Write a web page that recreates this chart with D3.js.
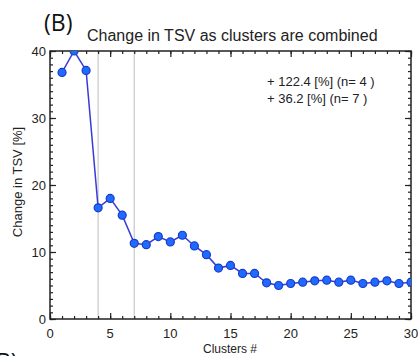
<!DOCTYPE html>
<meta charset="utf-8">
<html>
<head>
<style>
body { margin: 0; background: #fff; }
svg text { font-family: "Liberation Sans", Arial, sans-serif; fill: #222; }
.tick-label { font-size: 13px; }
</style>
</head>
<body>
<svg id="chart" width="418" height="356"></svg>
<script src="https://d3js.org/d3.v7.min.js"></script>
<script>
// data
var clusters = d3.range(1, 31);
var tsvChange = [36.8, 40.0, 37.1, 16.6, 18.0, 15.5, 11.3, 11.1, 12.3, 11.5,
                 12.5, 10.9, 9.6, 7.6, 8.0, 6.8, 6.8, 5.4, 5.0, 5.3,
                 5.5, 5.7, 5.8, 5.5, 5.8, 5.3, 5.5, 5.7, 5.3, 5.5];
var markerLines = [4, 7];
var xTicks = [0, 5, 10, 15, 20, 25, 30];
var yTicks = [0, 10, 20, 30, 40];
var notes = ["+ 122.4 [%] (n= 4 )", "+ 36.2 [%] (n= 7 )"];

// plot box (window.top is taken, so prefixed names)
var pLeft = 50, pRight = 411, pTop = 51, pBottom = 319;

var svg = d3.select("#chart");

var x = d3.scaleLinear().domain([0, 30]).range([pLeft, pRight]);
var y = d3.scaleLinear().domain([0, 40]).range([pBottom, pTop]);

svg.append("clipPath").attr("id", "plotclip")
  .append("rect")
    .attr("x", pLeft).attr("y", pTop)
    .attr("width", pRight - pLeft).attr("height", pBottom - pTop);

// grey guide lines at the chosen cluster counts
svg.selectAll(".guide")
  .data(markerLines)
  .enter().append("line")
    .attr("x1", function(d) { return x(d); })
    .attr("x2", function(d) { return x(d); })
    .attr("y1", pTop).attr("y2", pBottom)
    .style("stroke", "#c8c8c8")
    .style("stroke-width", 1.2);

// axes, IDL style: inward ticks on every side
function minor(n) { return d3.range(0, n + 1); }
function noDomain(g) { g.select(".domain").remove(); }

svg.append("g")
    .attr("transform", "translate(0," + pBottom + ")")
    .call(d3.axisTop(x).tickValues(minor(30)).tickSize(3).tickFormat(""))
    .call(noDomain);
svg.append("g")
    .attr("transform", "translate(0," + pBottom + ")")
    .call(d3.axisTop(x).tickValues(xTicks).tickSize(6).tickFormat(""))
    .call(noDomain);
svg.append("g")
    .attr("transform", "translate(0," + pTop + ")")
    .call(d3.axisBottom(x).tickValues(minor(30)).tickSize(3).tickFormat(""))
    .call(noDomain);
svg.append("g")
    .attr("transform", "translate(0," + pTop + ")")
    .call(d3.axisBottom(x).tickValues(xTicks).tickSize(6).tickFormat(""))
    .call(noDomain);

svg.append("g")
    .attr("transform", "translate(" + pLeft + ",0)")
    .call(d3.axisRight(y).tickValues(minor(40)).tickSize(3).tickFormat(""))
    .call(noDomain);
svg.append("g")
    .attr("transform", "translate(" + pLeft + ",0)")
    .call(d3.axisRight(y).tickValues(yTicks).tickSize(6).tickFormat(""))
    .call(noDomain);
svg.append("g")
    .attr("transform", "translate(" + pRight + ",0)")
    .call(d3.axisLeft(y).tickValues(minor(40)).tickSize(3).tickFormat(""))
    .call(noDomain);
svg.append("g")
    .attr("transform", "translate(" + pRight + ",0)")
    .call(d3.axisLeft(y).tickValues(yTicks).tickSize(6).tickFormat(""))
    .call(noDomain);

svg.selectAll(".tick line").style("stroke", "#222").style("stroke-width", 1.2);

svg.append("rect")
    .attr("x", pLeft).attr("y", pTop)
    .attr("width", pRight - pLeft).attr("height", pBottom - pTop)
    .style("fill", "none")
    .style("stroke", "#222")
    .style("stroke-width", 1.5);

// tick labels
svg.selectAll(".xlab")
  .data(xTicks)
  .enter().append("text")
    .attr("class", "tick-label")
    .attr("x", function(d) { return x(d); })
    .attr("y", pBottom + 19)
    .attr("text-anchor", "middle")
    .text(function(d) { return d; });

svg.selectAll(".ylab")
  .data(yTicks)
  .enter().append("text")
    .attr("class", "tick-label")
    .attr("x", pLeft - 4)
    .attr("y", function(d) { return y(d) + 5; })
    .attr("text-anchor", "end")
    .text(function(d) { return d; });

// data line and dots
var pts = clusters.map(function(c, i) { return [c, tsvChange[i]]; });
var plot = svg.append("g").attr("clip-path", "url(#plotclip)");

plot.append("path")
    .datum(pts)
    .attr("d", d3.line()
      .x(function(d) { return x(d[0]); })
      .y(function(d) { return y(d[1]); }))
    .style("fill", "none")
    .style("stroke", "#3a3ad8")
    .style("stroke-width", 1.5);

plot.selectAll(".dot")
  .data(pts)
  .enter().append("circle")
    .attr("cx", function(d) { return x(d[0]); })
    .attr("cy", function(d) { return y(d[1]); })
    .attr("r", 4)
    .style("fill", "#1f6bff")
    .style("stroke", "#1a3bc8")
    .style("stroke-width", 1.2);

// titles and labels
svg.append("text")
    .attr("x", 44).attr("y", 31)
    .style("font-family", "'Open Sans', sans-serif")
    .style("font-size", "23px")
    .style("fill", "#111")
    .text("(B)");

svg.append("text")
    .attr("x", 87).attr("y", 41)
    .style("font-size", "16px")
    .text("Change in TSV as clusters are combined");

svg.append("text")
    .attr("transform", "translate(22,182) rotate(-90)")
    .attr("text-anchor", "middle")
    .style("font-size", "13px")
    .text("Change in TSV [%]");

svg.append("text")
    .attr("x", 230).attr("y", 353)
    .attr("text-anchor", "middle")
    .style("font-size", "12px")
    .text("Clusters #");

svg.selectAll(".note")
  .data(notes)
  .enter().append("text")
    .attr("x", 267)
    .attr("y", function(d, i) { return 86 + i * 17; })
    .style("font-size", "13px")
    .text(function(d) { return d; });

// cut-off label of the panel below
svg.append("text")
    .attr("x", -4).attr("y", 370)
    .style("font-family", "'Open Sans', sans-serif")
    .style("font-size", "23px")
    .style("fill", "#111")
    .text("B)");
</script>
</body>
</html>
